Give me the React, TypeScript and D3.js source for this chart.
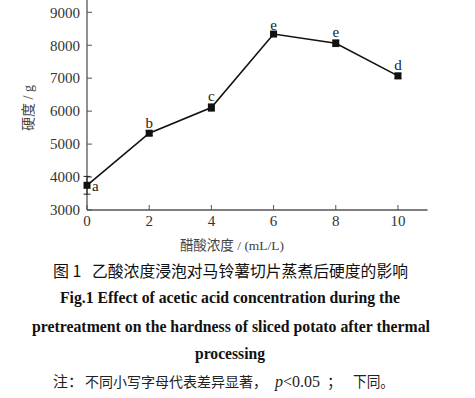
import { useMemo } from "react";
import * as d3 from "d3";

const WIDTH = 475;
const HEIGHT = 398;

// acetic acid concentration (mL/L)
const concentrations = [0, 2, 4, 6, 8, 10];
const hardness = [3750, 5330, 6110, 8340, 8060, 7070];
const errors = [270, 70, 110, 40, 100, 80];
const letters = ["a", "b", "c", "e", "e", "d"];
const xTicks = [0, 2, 4, 6, 8, 10];
const yTicks = [3000, 4000, 5000, 6000, 7000, 8000, 9000];

const SERIF = "'Liberation Serif', 'Times New Roman', serif";
const CJK = "'Noto Sans CJK SC', sans-serif";

export default function App() {
  const xScale = useMemo(
    () => d3.scaleLinear().domain([0, 10.95]).range([87, 427.5]),
    []
  );
  const yScale = useMemo(
    () => d3.scaleLinear().domain([3000, 9000]).range([210, 12.3]),
    []
  );

  const line = d3
    .line<number>()
    .x((_, i) => xScale(concentrations[i]))
    .y((d) => yScale(d));

  const axisColor = "#555";

  return (
    <svg
      width={WIDTH}
      height={HEIGHT}
      style={{ position: "absolute", left: 0, top: 0, background: "#fff" }}
    >
      {/* axes */}
      <line x1={xScale(0)} x2={xScale(10.95)} y1={210} y2={210} stroke={axisColor} strokeWidth={1.3} />
      <line x1={xScale(0)} x2={xScale(0)} y1={0} y2={210} stroke={axisColor} strokeWidth={1.3} />

      {yTicks.map((t) => (
        <g key={t}>
          <line x1={xScale(0)} x2={xScale(0) + 5} y1={yScale(t)} y2={yScale(t)} stroke={axisColor} strokeWidth={1} />
          <text
            x={80}
            y={yScale(t)}
            dy="0.35em"
            textAnchor="end"
            fontFamily={SERIF}
            fontSize={15}
            fill="#333"
          >
            {t}
          </text>
        </g>
      ))}

      {xTicks.map((t) => (
        <g key={t}>
          <line x1={xScale(t)} x2={xScale(t)} y1={210} y2={205} stroke={axisColor} strokeWidth={1} />
          <text
            x={xScale(t)}
            y={225.5}
            textAnchor="middle"
            fontFamily={SERIF}
            fontSize={15}
            fill="#333"
          >
            {t}
          </text>
        </g>
      ))}

      {/* axis titles */}
      <text x={232} y={250} textAnchor="middle" fontSize={13.5} fill="#444" fontFamily={SERIF}>
        <tspan fontFamily={CJK}>醋酸浓度</tspan> / (mL/L)
      </text>
      <text
        transform={`translate(33, 108) rotate(-90)`}
        textAnchor="middle"
        fontSize={14}
        fill="#444"
        fontFamily={SERIF}
      >
        <tspan fontFamily={CJK}>硬度</tspan> / g
      </text>

      {/* data line */}
      <path d={line(hardness) ?? ""} fill="none" stroke="#111" strokeWidth={1.6} />

      {hardness.map((v, i) => {
        const cx = xScale(concentrations[i]);
        const top = yScale(v + errors[i]);
        const bot = yScale(v - errors[i]);
        return (
          <g key={i}>
            <line x1={cx} x2={cx} y1={top} y2={bot} stroke="#222" strokeWidth={1} />
            <line x1={cx - 3.5} x2={cx + 3.5} y1={top} y2={top} stroke="#222" strokeWidth={1} />
            <line x1={cx - 3.5} x2={cx + 3.5} y1={bot} y2={bot} stroke="#222" strokeWidth={1} />
            <rect x={cx - 3.5} y={yScale(v) - 3.5} width={7} height={7} fill="#111" />
            {i === 0 ? (
              <text x={cx + 5} y={yScale(v) + 6} fontFamily={SERIF} fontSize={15} fill="#222">
                {letters[i]}
              </text>
            ) : (
              <text
                x={cx}
                y={top - 3}
                textAnchor="middle"
                fontFamily={SERIF}
                fontSize={15}
                fill="#222"
              >
                {letters[i]}
              </text>
            )}
          </g>
        );
      })}

      {/* caption */}
      <g fontFamily={CJK} fontSize={16} fill="#111">
        <text x={53} y={277}>图 1</text>
        <text x={92} y={277} textLength={316} lengthAdjust="spacingAndGlyphs">
          乙酸浓度浸泡对马铃薯切片蒸煮后硬度的影响
        </text>
      </g>
      <g fontFamily={SERIF} fontWeight="bold" fontSize={16} fill="#111">
        <text x={60} y={303} textLength={340} lengthAdjust="spacingAndGlyphs">
          Fig.1 Effect of acetic acid concentration during the
        </text>
        <text x={32} y={332} textLength={398} lengthAdjust="spacingAndGlyphs">
          pretreatment on the hardness of sliced potato after thermal
        </text>
        <text x={195} y={359} textLength={70} lengthAdjust="spacingAndGlyphs">
          processing
        </text>
      </g>
      <g fontSize={15} fill="#222">
        <text x={53} y={387} fontFamily={CJK}>注：</text>
        <text x={85} y={387} fontFamily={CJK} fontSize={14}>
          不同小写字母代表差异显著，
        </text>
        <text x={275} y={387} fontFamily={SERIF} fontSize={16}>
          <tspan fontStyle="italic">p</tspan>&lt;0.05
        </text>
        <text x={327} y={387} fontFamily={CJK}>；</text>
        <text x={353} y={387} fontFamily={CJK} textLength={41} lengthAdjust="spacingAndGlyphs">
          下同。
        </text>
      </g>
    </svg>
  );
}
